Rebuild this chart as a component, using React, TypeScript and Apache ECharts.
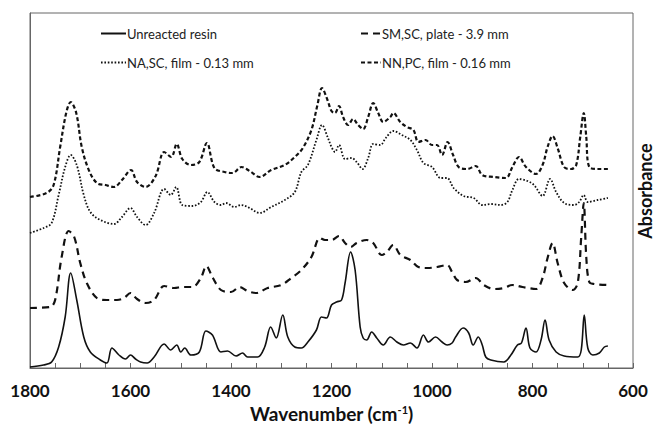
import React, { useEffect, useRef } from "react";
import * as echarts from "echarts";

// Wavenumber (cm-1) / absorbance (arbitrary units, offset-stacked)
const unreacted: [number, number][] = [
  [1800, 1], [1773, 3], [1757, 6], [1743, 21], [1730, 51], [1719, 95], [1707, 68], [1693, 31], [1680, 16],
  [1660, 8], [1647, 5], [1637, 20], [1623, 13], [1610, 9], [1600, 13], [1590, 9], [1580, 6], [1567, 5],
  [1553, 11], [1533, 24], [1520, 18], [1508, 23], [1500, 16], [1492, 20], [1480, 13], [1463, 16], [1450, 37],
  [1437, 33], [1420, 16], [1407, 17], [1390, 12], [1377, 15], [1367, 11], [1347, 11], [1333, 21], [1321, 41],
  [1310, 30], [1297, 53], [1287, 31], [1273, 21], [1260, 20], [1247, 26], [1230, 38], [1220, 51], [1210, 50],
  [1200, 63], [1190, 66], [1180, 68], [1173, 85], [1162, 116], [1153, 98], [1143, 41], [1137, 30], [1130, 28],
  [1120, 36], [1110, 30], [1097, 23], [1083, 31], [1070, 26], [1057, 23], [1043, 25], [1030, 20], [1017, 33],
  [1007, 26], [993, 31], [980, 26], [970, 23], [960, 25], [953, 31], [938, 40], [927, 35], [918, 23], [908, 31],
  [900, 23], [893, 11], [883, 8], [857, 6], [843, 13], [830, 23], [822, 25], [813, 40], [805, 20], [793, 16],
  [783, 28], [775, 48], [767, 28], [753, 16], [737, 12], [710, 11], [703, 18], [697, 53], [690, 20], [680, 13],
  [667, 15], [657, 21], [650, 22],
];

const smScPlate: [number, number][] = [
  [1800, 60], [1760, 61], [1750, 68], [1737, 111], [1723, 137], [1712, 131], [1700, 105], [1687, 85], [1667, 70],
  [1647, 68], [1627, 68], [1613, 70], [1600, 75], [1587, 69], [1570, 65], [1553, 68], [1533, 82], [1513, 80],
  [1497, 81], [1477, 81], [1460, 90], [1449, 102], [1437, 91], [1420, 78], [1400, 76], [1383, 81], [1367, 77],
  [1350, 75], [1327, 80], [1300, 83], [1280, 90], [1260, 98], [1240, 111], [1223, 130], [1213, 128], [1200, 128],
  [1185, 132], [1173, 125], [1162, 121], [1150, 125], [1130, 128], [1117, 125], [1100, 113], [1090, 116],
  [1077, 123], [1063, 113], [1043, 108], [1027, 101], [1010, 100], [990, 101], [970, 103], [960, 96], [950, 88],
  [933, 86], [913, 90], [897, 83], [877, 79], [857, 80], [840, 83], [820, 81], [793, 79], [780, 90], [770, 110],
  [760, 125], [750, 105], [737, 85], [720, 78], [710, 85], [703, 131], [698, 165], [693, 111], [687, 86],
  [677, 84], [650, 83],
];

const naScFilm: [number, number][] = [
  [1800, 135], [1773, 140], [1757, 145], [1743, 173], [1730, 201], [1719, 213], [1707, 203], [1693, 173],
  [1680, 156], [1660, 148], [1633, 144], [1617, 151], [1600, 160], [1587, 151], [1570, 143], [1553, 155],
  [1533, 179], [1520, 173], [1509, 181], [1497, 163], [1477, 162], [1460, 166], [1447, 176], [1433, 166],
  [1420, 163], [1410, 165], [1393, 161], [1380, 163], [1363, 160], [1343, 155], [1320, 161], [1293, 168],
  [1273, 176], [1260, 196], [1247, 203], [1230, 228], [1219, 243], [1207, 230], [1200, 221], [1193, 216],
  [1185, 223], [1173, 209], [1160, 210], [1150, 206], [1138, 199], [1127, 210], [1117, 224], [1103, 223],
  [1092, 230], [1077, 237], [1060, 233], [1043, 228], [1030, 218], [1017, 205], [1000, 201], [983, 190],
  [970, 190], [957, 180], [937, 172], [917, 170], [900, 163], [883, 164], [863, 163], [850, 166], [840, 178],
  [827, 189], [810, 187], [797, 183], [780, 172], [765, 189], [753, 176], [737, 165], [717, 163], [707, 166],
  [698, 173], [690, 166], [670, 168], [650, 170],
];

const nnPcFilm: [number, number][] = [
  [1800, 171], [1767, 175], [1753, 183], [1740, 221], [1728, 255], [1719, 266], [1708, 255], [1697, 221],
  [1683, 198], [1667, 185], [1650, 183], [1633, 181], [1617, 188], [1599, 198], [1587, 186], [1570, 181],
  [1550, 192], [1533, 216], [1519, 211], [1508, 224], [1497, 209], [1480, 203], [1463, 206], [1448, 225],
  [1433, 200], [1413, 196], [1397, 195], [1379, 201], [1363, 197], [1343, 191], [1320, 198], [1293, 203],
  [1273, 211], [1257, 220], [1240, 238], [1228, 263], [1219, 280], [1208, 268], [1200, 257], [1193, 255],
  [1185, 262], [1177, 251], [1167, 243], [1157, 249], [1147, 243], [1137, 239], [1127, 251], [1117, 265],
  [1107, 255], [1097, 246], [1083, 251], [1077, 255], [1063, 246], [1050, 241], [1037, 238], [1027, 226],
  [1013, 228], [1000, 223], [990, 223], [980, 213], [969, 226], [958, 213], [947, 201], [930, 199], [913, 202],
  [900, 193], [877, 191], [853, 190], [840, 201], [827, 211], [813, 201], [793, 194], [780, 203], [770, 221],
  [760, 232], [750, 220], [737, 201], [723, 199], [713, 203], [705, 231], [698, 255], [693, 231], [687, 201],
  [670, 199], [650, 199],
];

const seriesNames = [
  "Unreacted resin",
  "NA,SC, film - 0.13 mm",
  "SM,SC, plate - 3.9 mm",
  "NN,PC, film - 0.16 mm",
];

const FONT = "Lato, 'Open Sans', sans-serif";

export default function App() {
  const ref = useRef<HTMLDivElement>(null);
  useEffect(() => {
    if (!ref.current) return;
    const chart = echarts.init(ref.current, undefined, { renderer: "svg" });
    const lineBase = { type: "line" as const, symbol: "none", smooth: 0.35, animation: false };
    const legendCommon = {
      orient: "vertical" as const, top: 22, itemGap: 16, itemHeight: 12,
      textStyle: { fontFamily: FONT, fontSize: 13, color: "#222", padding: [0, 0, 0, -4] },
      itemStyle: { opacity: 0 },
      selectedMode: false,
    };
    chart.setOption({
      animation: false,
      textStyle: { fontFamily: FONT },
      grid: {
        left: 30, right: 24, top: 13, bottom: 63,
        show: true, borderColor: "#666", borderWidth: 1, backgroundColor: "transparent",
      },
      legend: [
        { ...legendCommon, data: [seriesNames[0], seriesNames[1]], left: 95, itemWidth: 25 },
        { ...legendCommon, data: [seriesNames[2], seriesNames[3]], left: 355, itemWidth: 20 },
      ],
      xAxis: {
        type: "value", min: 600, max: 1800, interval: 200, inverse: true,
        axisLine: { show: true, lineStyle: { color: "#666", width: 1 } },
        axisTick: { show: true, inside: true, length: 5, lineStyle: { color: "#666" } },
        minorTick: { show: true, splitNumber: 4, length: 5, lineStyle: { color: "#666" } },
        splitLine: { show: false },
        axisLabel: {
          fontFamily: FONT, fontSize: 17, fontWeight: "bold", color: "#111", margin: 14,
          formatter: (v: number) => String(v),
        },
        name: "Wavenumber (cm{sup|-1})",
        nameLocation: "middle", nameGap: 36,
        nameTextStyle: {
          fontFamily: FONT, fontSize: 19, fontWeight: "bold", color: "#111",
          rich: { sup: { fontFamily: FONT, fontSize: 11, fontWeight: "bold", color: "#111", verticalAlign: "top", padding: [0, 0, 8, 0] } },
        },
      },
      yAxis: {
        type: "value", min: 0, max: 355,
        axisLine: { show: true, lineStyle: { color: "#666" } },
        axisTick: { show: false }, axisLabel: { show: false }, splitLine: { show: false },
      },
      graphic: [
        {
          type: "text", x: 645, y: 191, rotation: Math.PI / 2,
          style: {
            text: "Absorbance", fontFamily: FONT, fontSize: 18, fontWeight: "bold", fill: "#111",
            textAlign: "center", textVerticalAlign: "middle",
          },
        },
      ],
      series: [
        { ...lineBase, name: seriesNames[0], data: unreacted, lineStyle: { color: "#111", width: 1.6, type: "solid" }, itemStyle: { color: "#111" } },
        { ...lineBase, name: seriesNames[1], data: naScFilm, lineStyle: { color: "#111", width: 1.8, type: [1.6, 1.8] }, itemStyle: { color: "#111" } },
        { ...lineBase, name: seriesNames[2], data: smScPlate, lineStyle: { color: "#111", width: 2.2, type: [7, 5] }, itemStyle: { color: "#111" } },
        { ...lineBase, name: seriesNames[3], data: nnPcFilm, lineStyle: { color: "#111", width: 2.2, type: [4, 2.5] }, itemStyle: { color: "#111" } },
      ],
    });
    return () => chart.dispose();
  }, []);
  return <div ref={ref} style={{ width: 657, height: 431, position: "absolute", left: 0, top: 0 }} />;
}
